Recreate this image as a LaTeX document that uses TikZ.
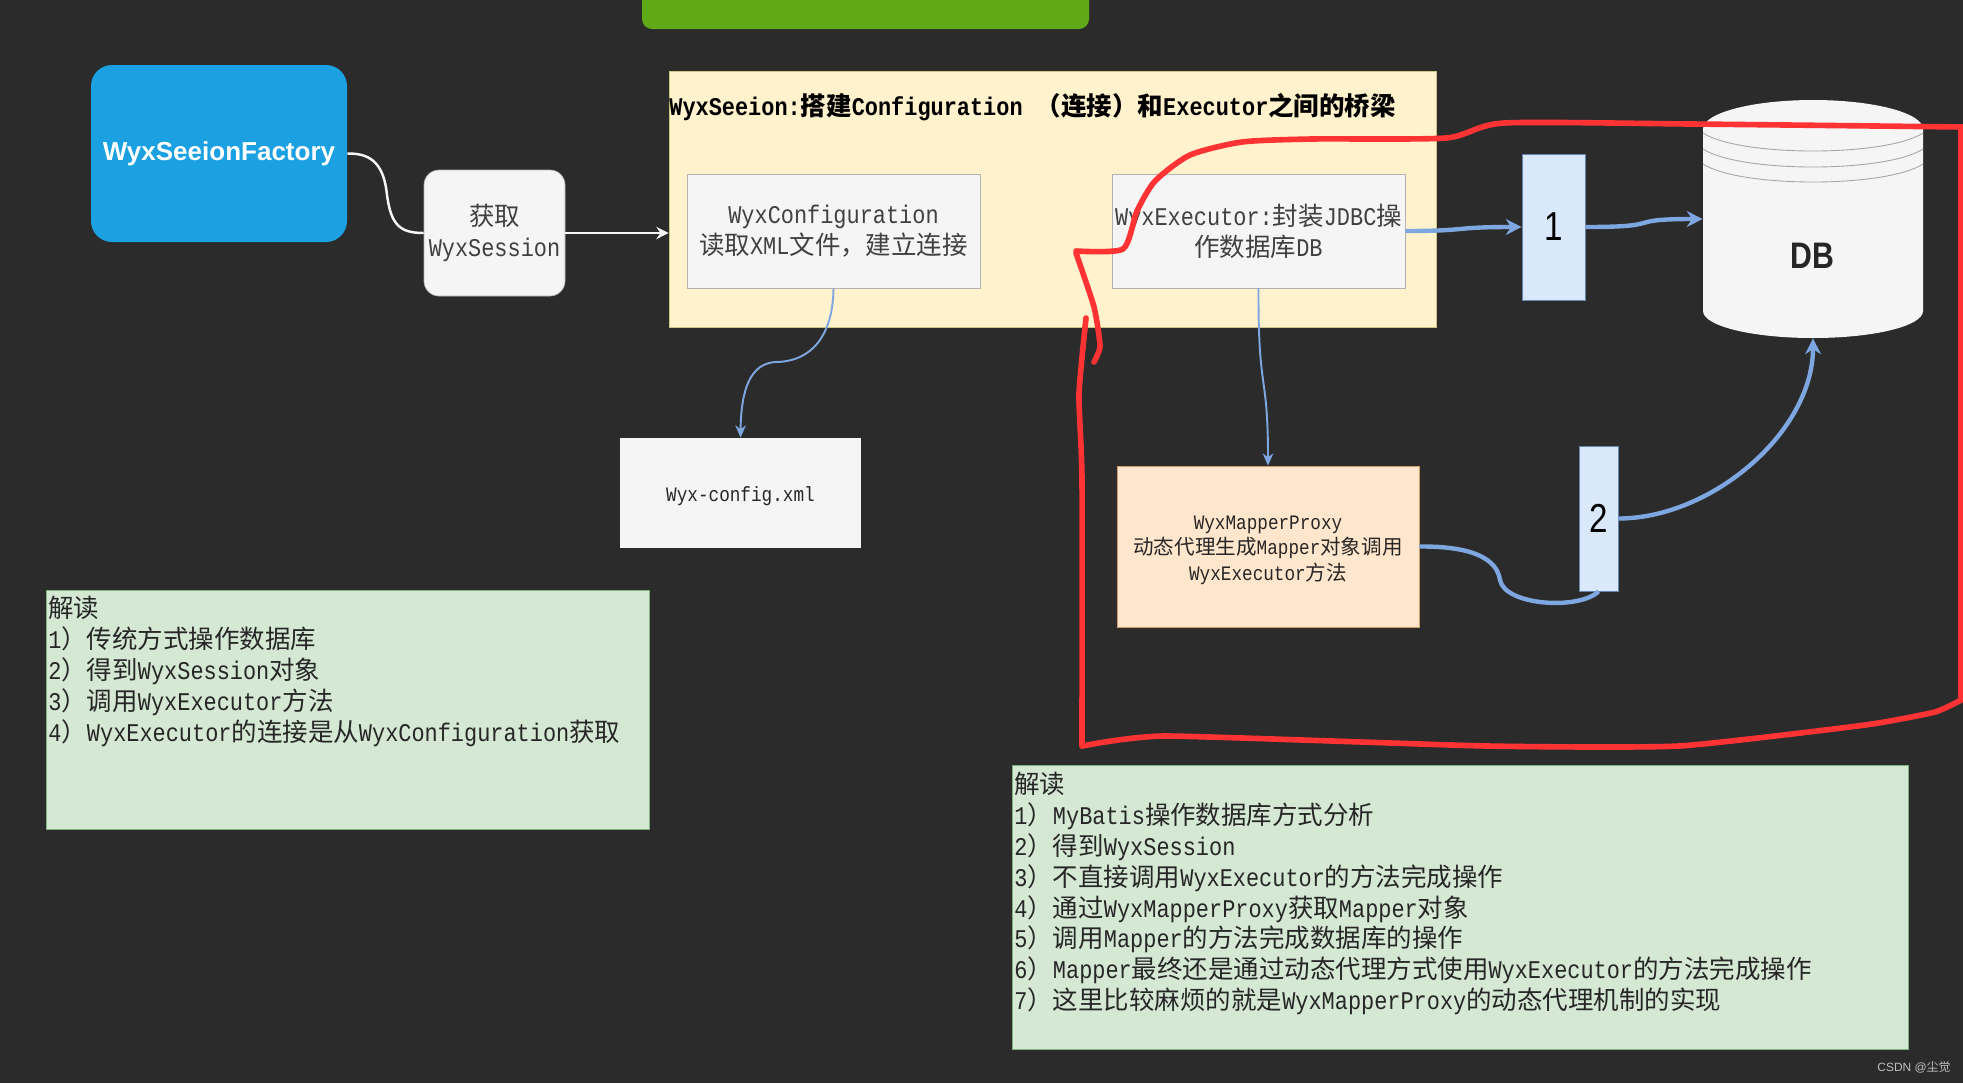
\documentclass[tikz,border=0pt]{standalone}
\usepackage{fontspec}
\usepackage{tikz}
\usetikzlibrary{arrows.meta,positioning,calc}
\setmainfont{Liberation Mono}[FakeStretch=0.86]
\newfontfamily\cjk{Noto Sans CJK SC}
\newfontfamily\sanslabel{Liberation Sans}
\newfontfamily\narrowlabel{Liberation Sans}[FakeStretch=0.82]
\newcommand{\zh}[1]{{\cjk #1}}
\newcommand{\toppad}{\rule{0pt}{11.8pt}}
\definecolor{pagebg}{HTML}{2B2B2B}
\definecolor{wireblue}{HTML}{7EA6E0}
\definecolor{inkred}{HTML}{FF3333}
\definecolor{notegreen}{HTML}{D5E8D4}
\definecolor{factoryblue}{HTML}{1BA1E2}
\definecolor{barGreen}{HTML}{60A917}
\definecolor{blockyellow}{HTML}{FFF2CC}
\definecolor{proxyorange}{HTML}{FFE6CC}
\definecolor{stepblue}{HTML}{DAE8FC}

\begin{document}
\begin{tikzpicture}[
    x=0.02cm, y=-0.02cm,
    size/.style 2 args={minimum width=#1*0.02cm, minimum height=#2*0.02cm, inner sep=0},
    bigtext/.style={font=\fontsize{14.5}{17.5}\selectfont, align=center, text=black!75},
    smalltext/.style={font=\fontsize{11.7}{14.6}\selectfont, align=center, text=black!85},
    greybox/.style={draw=black!30, fill=black!4, bigtext},
    sidebox/.style={draw=wireblue!80!black, fill=stepblue, font=\narrowlabel\fontsize{23}{26}\selectfont},
    note/.style={draw=green!40!black!50, fill=notegreen},
    notetext/.style={anchor=north west, inner sep=0, align=left, font=\fontsize{14.5}{17.55}\selectfont, text=black!85},
    whitewire/.style={draw=black!3, line width=1.4pt},
    thinwire/.style={draw=wireblue, line width=1.1pt, -{Stealth[length=7pt,width=6pt]}},
    thickwire/.style={draw=wireblue, line width=2.5pt, -{Stealth[length=9pt,width=9pt]}},
    redmark/.style={inkred, line width=3.2pt, line cap=round, line join=round}
]
    % Page
    \fill[pagebg] (0,0) rectangle (1963,1083);
    \useasboundingbox (0,0) rectangle (1963,1083);

    % Top bar and session factory
    \node[size={447}{48}, rounded corners=0.2cm, fill=barGreen] (topbar) at (865.5,5) {};
    \node[size={256}{177}, rounded corners=0.42cm, fill=factoryblue, text=white,
        font=\sanslabel\bfseries\fontsize{14.8}{18}\selectfont] (factory) at (219,153.5) {WyxSeeionFactory};
    \node[size={141}{126}, rounded corners=0.3cm, greybox] (session) at (494.5,233) {\zh{获取}\\WyxSession};

    % Session block
    \node[size={767}{256}, draw=yellow!60!black!60, fill=blockyellow] (yellowbox) at (1052.5,199) {};
    \node[anchor=west, inner sep=0, font=\fontsize{14.5}{17.5}\selectfont\bfseries, text=black] (blocktitle) at (669,107)
        {WyxSeeion:\zh{搭建}Configuration \zh{（连接）和}Executor\zh{之间的桥梁}};
    \node[size={293}{114}, greybox] (config) at (833.5,231) {WyxConfiguration\\\zh{读取}XML\zh{文件，建立连接}};
    \node[size={293}{114}, greybox] (executor) at (1258.5,231) {WyxExecutor:\zh{封装}JDBC\zh{操}\\\zh{作数据库}DB};

    % Lower boxes
    \node[size={241}{110}, fill=black!4, smalltext] (xmlfile) at (740.5,493) {\toppad Wyx-config.xml};
    \node[size={302}{161}, draw=orange!70!black!60, fill=proxyorange, smalltext] (proxy) at (1268,546.5)
        {\toppad WyxMapperProxy\\\zh{动态代理生成}Mapper\zh{对象调用}\\WyxExecutor\zh{方法}};

    % Numbered boxes
    \node[size={63}{146}, sidebox] (stepone) at (1553.5,227) {1};
    \node[size={39}{145}, sidebox] (steptwo) at (1598.5,518.5) {2};

    % Database
    \node[size={220}{238}] (db) at (1813,219) {};
    \fill[black!4] (1703,129) .. controls (1703,113) and (1752,100) .. (1813,100)
        .. controls (1874,100) and (1923,113) .. (1923,129) -- (1923,311)
        .. controls (1923,326) and (1874,338) .. (1813,338)
        .. controls (1752,338) and (1703,326) .. (1703,311) -- cycle;
    \foreach \y in {133,149,164} {
        \draw[black!35, line width=0.5pt] (1703,\y) .. controls (1740,\y+24) and (1886,\y+24) .. (1923,\y);
    }
    \node[inner sep=0, font=\narrowlabel\bfseries\fontsize{21}{24}\selectfont, text=black!85] (dblabel) at (1812,256) {DB};

    % Notes
    \node[size={603}{239}, note] (leftnote) at (347.5,709.5) {};
    \node[notetext] (lefttext) at (48,596) {\zh{解读}\\
        1\zh{）传统方式操作数据库}\\
        2\zh{）得到}WyxSession\zh{对象}\\
        3\zh{）调用}WyxExecutor\zh{方法}\\
        4\zh{）}WyxExecutor\zh{的连接是从}WyxConfiguration\zh{获取}};
    \node[size={896}{284}, note] (rightnote) at (1460,907) {};
    \node[notetext] (righttext) at (1014,772) {\zh{解读}\\
        1\zh{）}MyBatis\zh{操作数据库方式分析}\\
        2\zh{）得到}WyxSession\\
        3\zh{）不直接调用}WyxExecutor\zh{的方法完成操作}\\
        4\zh{）通过}WyxMapperProxy\zh{获取}Mapper\zh{对象}\\
        5\zh{）调用}Mapper\zh{的方法完成数据库的操作}\\
        6\zh{）}Mapper\zh{最终还是通过动态代理方式使用}WyxExecutor\zh{的方法完成操作}\\
        7\zh{）这里比较麻烦的就是}WyxMapperProxy\zh{的动态代理机制的实现}};

    % Connectors
    \draw[whitewire] (factory.east) .. controls (372,153) and (384,165) .. (387,195)
        .. controls (391,225) and (400,233) .. (session.west);
    \draw[whitewire, -{Stealth[length=7pt,width=7pt]}] (session.east) -- (session.east -| yellowbox.west);
    \draw[thinwire] (config.south) .. controls (833,335) and (812,362) .. (775,362)
        .. controls (750,364) and (741,390) .. (xmlfile.north);
    \draw[thinwire] (executor.south) .. controls (1258,395) and (1268,370) .. (proxy.north);
    \draw[thickwire] (executor.east) .. controls (1470,231) and (1450,227) .. (stepone.west);
    \draw[thickwire] (stepone.east) .. controls (1670,227) and (1620,219) .. (db.west);
    \draw[thickwire, -] (proxy.east) .. controls (1475,546) and (1497,560) .. (1500,580)
        .. controls (1505,606) and (1580,610) .. (steptwo.south);
    \draw[thickwire] (steptwo.east) to[out=0, in=-90, looseness=0.9] (db.south);

    % Red freehand mark
    \draw[redmark] plot[smooth, tension=0.35] coordinates {(1094,362) (1100,346) (1094,307) (1076,253)};
    \draw[redmark] plot[smooth, tension=0.4] coordinates {(1076,251) (1123,249) (1137,211) (1155,181) (1190,155) (1242,142)
            (1312,139) (1446,138) (1504,123) (1691,124) (1963,127)};
    \draw[redmark] (1961,127) -- (1961,699);
    \draw[redmark] plot[smooth, tension=0.3] coordinates {(1963,699) (1935,712) (1865,725) (1679,746)
            (1487,746) (1166,736) (1082,746)};
    \draw[redmark] plot[smooth, tension=0.3] coordinates {(1082,746) (1082,480) (1079,394) (1086,318)};

    % Watermark
    \node[inner sep=0, text=black!25, font=\sanslabel\fontsize{6.8}{8}\selectfont] (watermark) at (1914,1067) {CSDN @\zh{尘觉}};
\end{tikzpicture}
\end{document}
